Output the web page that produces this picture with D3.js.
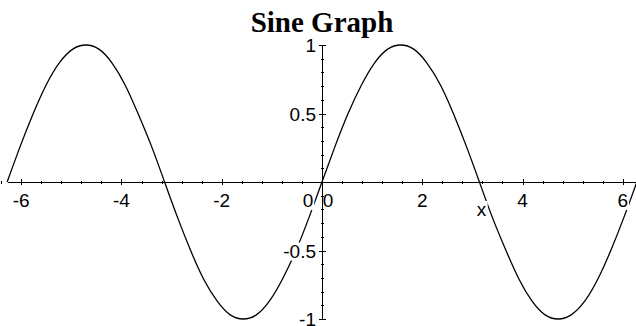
<!DOCTYPE html>
<html>
<head>
<meta charset="utf-8">
<script src="https://cdn.jsdelivr.net/npm/d3@7/dist/d3.min.js"></script>
<style>
    body { margin: 0; background: #fff; }
    svg { display: block; }
</style>
</head>
<body>
<svg id="chart" width="636" height="326"></svg>
<script>
// values
var curveX = [-6.28, -6.02, -5.76, -5.50, -5.24, -4.97, -4.71, -4.45, -4.19, -3.93, -3.67, -3.40,
              -3.14, -2.88, -2.62, -2.36, -2.09, -1.83, -1.57, -1.31, -1.05, -0.79, -0.52, -0.26,
              0, 0.26, 0.52, 0.79, 1.05, 1.31, 1.57, 1.83, 2.09, 2.36, 2.62, 2.88,
              3.14, 3.40, 3.67, 3.93, 4.19, 4.45, 4.71, 4.97, 5.24, 5.50, 5.76, 6.02, 6.28];
var curveY = [0, 0.26, 0.5, 0.71, 0.87, 0.97, 1, 0.97, 0.87, 0.71, 0.5, 0.26,
              0, -0.26, -0.5, -0.71, -0.87, -0.97, -1, -0.97, -0.87, -0.71, -0.5, -0.26,
              0, 0.26, 0.5, 0.71, 0.87, 0.97, 1, 0.97, 0.87, 0.71, 0.5, 0.26,
              0, -0.26, -0.5, -0.71, -0.87, -0.97, -1, -0.97, -0.87, -0.71, -0.5, -0.26, 0];
var xMajor = [-6, -4, -2, 2, 4, 6];
var xMinor = [-6.4, -5.6, -5.2, -4.8, -4.4, -3.6, -3.2, -2.8, -2.4, -1.6, -1.2, -0.8, -0.4,
              0.4, 0.8, 1.2, 1.6, 2.4, 2.8, 3.2, 3.6, 4.4, 4.8, 5.2, 5.6];
var yMajor = [-1, -0.5, 0.5, 1];
var yMinor = [-0.9, -0.8, -0.7, -0.6, -0.4, -0.3, -0.2, -0.1, 0.1, 0.2, 0.3, 0.4, 0.6, 0.7, 0.8, 0.9];
var xTickLabels = ['-6', '-4', '-2', '2', '4', '6'];
var yTickLabels = ['-1', '-0.5', '0.5', '1'];
var title = 'Sine Graph';
var xTitle = 'x';

var
svg = d3.select('#chart'),
x = d3.scaleLinear().domain([-6.2832, 6.2832]).range([7, 637]),
y = d3.scaleLinear().domain([-1, 1]).range([319, 45]),
x0 = x(0),
y0 = y(0),
points = curveX.map(function (d, i) { return [d, curveY[i]]; }),
labelFont = '"Liberation Sans", Arial, sans-serif';

svg.append('rect').attr('width', 636).attr('height', 326).attr('fill', '#fff');

svg.append('text')
    .attr('x', 322).attr('y', 32)
    .attr('text-anchor', 'middle')
    .style('font-family', '"Liberation Serif", "Times New Roman", serif')
    .style('font-weight', 'bold')
    .style('font-size', '29px')
    .text(title);

// the curve, under the labels
svg.append('path')
    .datum(points)
    .attr('fill', 'none')
    .attr('stroke', '#000')
    .attr('stroke-width', 1.3)
    .attr('d', d3.line()
        .x(function (d) { return x(d[0]); })
        .y(function (d) { return y(d[1]); })
        .curve(d3.curveNatural));

// labels get a white box, so they cut the curve
function addLabel(g, px, py, txt, anchor) {
    var
    lg = g.append('g'),
    t = lg.append('text')
        .attr('x', px).attr('y', py)
        .attr('text-anchor', anchor)
        .style('font-family', labelFont)
        .style('font-size', '19px')
        .text(txt),
    bb = t.node().getBBox();
    lg.insert('rect', 'text')
        .attr('x', bb.x - 1).attr('y', bb.y + 2)
        .attr('width', bb.width + 2).attr('height', bb.height - 3)
        .attr('fill', '#fff');
}

var labels = svg.append('g');
xMajor.forEach(function (d, i) {
    addLabel(labels, x(d), y0 + 25, xTickLabels[i], 'middle');
});
addLabel(labels, x0 - 14, y0 + 25, '0', 'middle');
addLabel(labels, x0 + 6, y0 + 25, '0', 'middle');
yMajor.forEach(function (d, i) {
    addLabel(labels, x0 - 6, y(d) + 7, yTickLabels[i], 'end');
});
addLabel(labels, x(3.18), y0 + 34, xTitle, 'middle');

// axes on top
function drawAxis(axis, tx, ty, size) {
    svg.append('g')
        .attr('transform', 'translate(' + tx + ',' + ty + ')')
        .call(axis.tickSize(size).tickSizeOuter(0).tickFormat(''))
        .call(function (g) {
            g.selectAll('path, line').attr('stroke', '#000').attr('shape-rendering', 'crispEdges');
        });
}

drawAxis(d3.axisBottom(x).tickValues(xMajor), 0, y0, 3);
drawAxis(d3.axisTop(x).tickValues(xMajor), 0, y0, 3);
drawAxis(d3.axisBottom(x).tickValues(xMinor), 0, y0, 1.5);
drawAxis(d3.axisTop(x).tickValues(xMinor), 0, y0, 1.5);
drawAxis(d3.axisLeft(y).tickValues(yMajor), x0, 0, 3.5);
drawAxis(d3.axisRight(y).tickValues(yMajor), x0, 0, 3.5);
drawAxis(d3.axisLeft(y).tickValues(yMinor), x0, 0, 1.5);
drawAxis(d3.axisRight(y).tickValues(yMinor), x0, 0, 1.5);

svg.selectAll('.domain').attr('stroke-width', 1.4);
</script>
</body>
</html>
